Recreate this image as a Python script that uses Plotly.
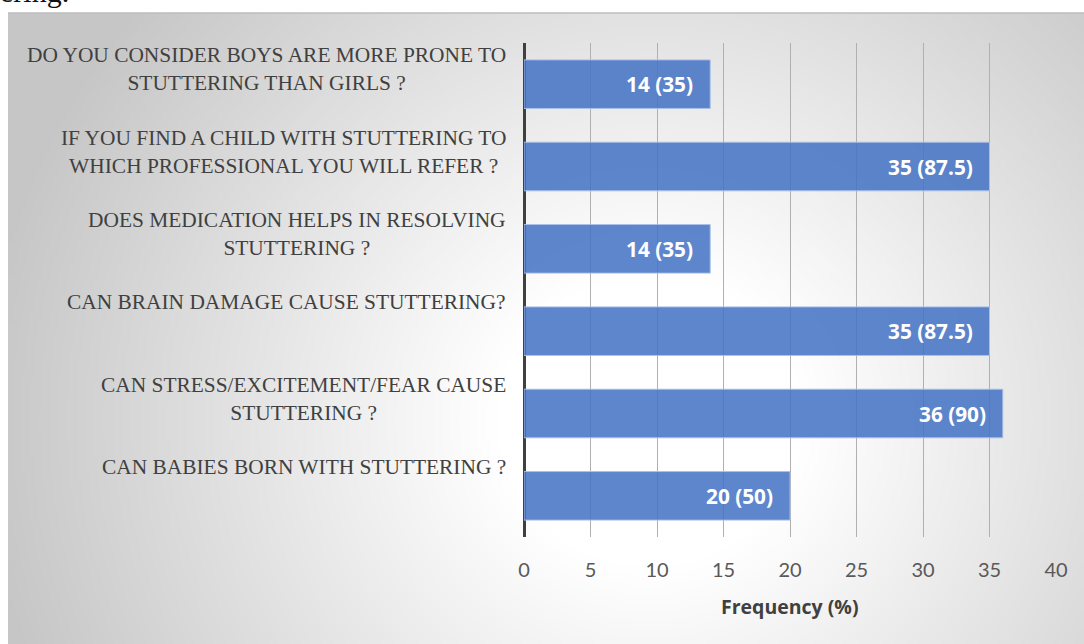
import base64, struct, zlib
import numpy as np
import plotly.graph_objects as go

# ---------------- data ----------------
questions = [
    "DO YOU CONSIDER BOYS ARE MORE PRONE TO<br>STUTTERING THAN GIRLS ?",
    "IF YOU FIND A CHILD WITH STUTTERING TO<br>WHICH PROFESSIONAL YOU WILL REFER ?",
    "DOES MEDICATION HELPS IN RESOLVING<br>STUTTERING ?",
    "CAN BRAIN DAMAGE CAUSE STUTTERING?",
    "CAN STRESS/EXCITEMENT/FEAR CAUSE<br>STUTTERING ?",
    "CAN BABIES BORN WITH STUTTERING ?",
]
frequency = [14, 35, 14, 35, 36, 20]
percent = [35, 87.5, 35, 87.5, 90, 50]
x_ticks = [0, 5, 10, 15, 20, 25, 30, 35, 40]
x_title = "Frequency (%)"

W, H = 1084, 644

# ---------------- background gradient image (decoration) ----------------
def gray_png(arr):
    h, w = arr.shape
    raw = b"".join(b"\x00" + arr[r].tobytes() for r in range(h))
    def chunk(tag, data):
        c = struct.pack(">I", len(data)) + tag + data
        return c + struct.pack(">I", zlib.crc32(tag + data) & 0xFFFFFFFF)
    png = b"\x89PNG\r\n\x1a\n"
    png += chunk(b"IHDR", struct.pack(">IIBBBBB", w, h, 8, 0, 0, 0, 0))
    png += chunk(b"IDAT", zlib.compress(raw, 9))
    png += chunk(b"IEND", b"")
    return "data:image/png;base64," + base64.b64encode(png).decode()

bx0, by0 = 8, 13
gw, gh = 269, 158
ii = (np.arange(gw) + 0.5) * (W - bx0) / gw + bx0
jj = (np.arange(gh) + 0.5) * (H - by0) / gh + by0
PX, PY = np.meshgrid(ii, jj)
d = np.sqrt(((PX - 650) / 520) ** 2 + ((PY - 420) / 500) ** 2)
s = np.clip((d - 0.3) / 1.0, 0, 1)
g = (255 - 57 * s).astype(np.uint8)
bg_src = gray_png(g)

# ---------------- figure ----------------
cats = list(range(len(questions)))
bar_color = "rgba(68,114,196,0.86)"

fig = go.Figure()
fig.add_trace(go.Bar(
    x=frequency, y=cats, orientation="h",
    marker=dict(color=bar_color, line=dict(color="rgba(170,192,232,0.95)", width=1)),
    hoverinfo="skip", showlegend=False,
))

x0d, x1d = 524 / W, 1056 / W
y0d, y1d = 1 - 537 / H, 1 - 43 / H

annotations = []
# category labels
for i, q in enumerate(questions):
    annotations.append(dict(
        x=0, y=i, xref="x", yref="y", text=q, showarrow=False,
        xanchor="right", yanchor="top", align="center",
        xshift=-16, yshift=43,
        font=dict(family="Liberation Serif, Times New Roman, serif", size=21.4, color="#404040"),
    ))
# data labels
for i, (f, p) in enumerate(zip(frequency, percent)):
    annotations.append(dict(
        x=f, y=i, xref="x", yref="y", text=f"{f} ({p:g})", showarrow=False,
        xanchor="right", yanchor="middle", xshift=-15, yshift=0,
        font=dict(family="Open Sans, Lato, sans-serif", size=20.8, color="white", weight="bold"),
    ))
# axis title
annotations.append(dict(
    x=0.5, y=1 - 606 / H, xref="x domain", yref="paper", text=f"<b>{x_title}</b>",
    showarrow=False, xanchor="center", yanchor="middle",
    font=dict(family="Open Sans, Lato, sans-serif", size=19.5, color="#404040"),
))
# cut-off text from the page above the chart
annotations.append(dict(
    x=-2 / W, y=1 + 9 / H, xref="paper", yref="paper", text="ering.",
    showarrow=False, xanchor="left", yanchor="middle",
    font=dict(family="Liberation Serif, Times New Roman, serif", size=30, color="#111111"),
))

fig.update_layout(
    template="none",
    width=W, height=H, autosize=False,
    margin=dict(l=0, r=0, t=0, b=0, pad=0, autoexpand=False),
    paper_bgcolor="white",
    plot_bgcolor="rgba(0,0,0,0)",
    bargap=0.41,
    images=[dict(source=bg_src, xref="paper", yref="paper",
                 x=bx0 / W, y=1 - by0 / H, sizex=(W - bx0) / W, sizey=(H - by0) / H,
                 xanchor="left", yanchor="top", sizing="stretch", layer="below")],
    shapes=[dict(type="line", xref="paper", yref="paper",
                 x0=bx0 / W, x1=1, y0=1 - by0 / H, y1=1 - by0 / H,
                 line=dict(color="#bdbdbd", width=1.5), layer="below")],
    xaxis=dict(
        domain=[x0d, x1d], range=[0, 40], tickvals=x_ticks, automargin=False,
        showgrid=True, gridcolor="#b0b0b0", gridwidth=1,
        zeroline=True, zerolinecolor="#404040", zerolinewidth=3,
        showline=False, ticks="", ticklabelstandoff=19,
        tickfont=dict(family="Lato, Open Sans, sans-serif", size=20, color="#595959"),
        fixedrange=True,
    ),
    yaxis=dict(
        domain=[y0d, y1d], range=[len(cats) - 0.5, -0.5], automargin=False,
        showticklabels=False, showgrid=False, zeroline=False, showline=False, ticks="",
        fixedrange=True,
    ),
    annotations=annotations,
)

fig.write_html(
    "out.html",
    config={"responsive": False, "displayModeBar": False},
)
